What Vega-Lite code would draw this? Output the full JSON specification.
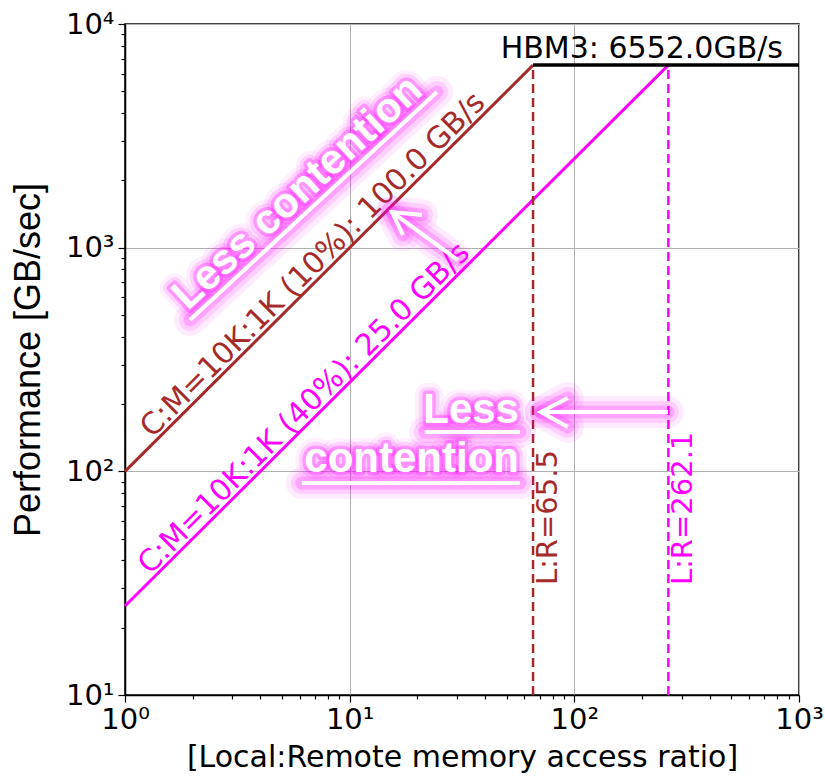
{
  "$schema": "https://vega.github.io/schema/vega-lite/v6.json",
  "width": 674,
  "height": 671,
  "autosize": {"type": "none"},
  "padding": {"left": 125, "top": 24, "right": 26, "bottom": 82},
  "background": "white",
  "config": {"view": {"stroke": "black", "strokeWidth": 1.5}},
  "datasets": {
    "brownLine": [{"x": 1, "y": 100}, {"x": 65.5, "y": 6552}],
    "magLine": [{"x": 1, "y": 25}, {"x": 262.1, "y": 6552}],
    "hbm": [{"x": 65.5, "y": 6552}, {"x": 1000, "y": 6552}],
    "vlines": [
      {"x": 65.5, "y": 10, "y2": 6552, "series": "10%"},
      {"x": 262.1, "y": 10, "y2": 6552, "series": "40%"}
    ],
    "curveLabels": [
      {"x": 1.36, "y": 136, "label": "C:M=10K:1K (10%): 100.0 GB/s", "series": "10%"},
      {"x": 1.33, "y": 33.25, "label": "C:M=10K:1K (40%): 25.0 GB/s", "series": "40%"}
    ],
    "lrLabels": [
      {"x": 65.5, "y": 31, "label": "L:R=65.5", "series": "10%"},
      {"x": 262.1, "y": 31, "label": "L:R=262.1", "series": "40%"}
    ],
    "hbmLabel": [{"x": 1000, "y": 6552, "label": "HBM3: 6552.0GB/s"}],
    "glowLines": [
      {"seg": "u1", "k": 1, "x": 1.947, "y": 474.8},
      {"seg": "u1", "k": 2, "x": 24.46, "y": 4962},
      {"seg": "u2", "k": 1, "x": 21.6, "y": 149.9},
      {"seg": "u2", "k": 2, "x": 57.3, "y": 149.9},
      {"seg": "u3", "k": 1, "x": 6.13, "y": 88.6},
      {"seg": "u3", "k": 2, "x": 57.3, "y": 88.6},
      {"seg": "a1", "k": 1, "x": 30.3, "y": 880},
      {"seg": "a1", "k": 2, "x": 15.43, "y": 1443},
      {"seg": "a1h", "k": 1, "x": 20.98, "y": 1399},
      {"seg": "a1h", "k": 2, "x": 15.43, "y": 1443},
      {"seg": "a1h", "k": 3, "x": 17.27, "y": 1138},
      {"seg": "a2", "k": 1, "x": 261, "y": 184.1},
      {"seg": "a2", "k": 2, "x": 71, "y": 184.1},
      {"seg": "a2h", "k": 1, "x": 93.6, "y": 212.7},
      {"seg": "a2h", "k": 2, "x": 71, "y": 184.1},
      {"seg": "a2h", "k": 3, "x": 93.6, "y": 157.8}
    ],
    "upperLess": [{"x": 6.4, "y": 1600, "label": "Less contention"}],
    "lowerLess": [
      {"x": 56.7, "y": 164.4, "label": "Less"},
      {"x": 56.7, "y": 99.3, "label": "contention"}
    ]
  },
  "encoding": {
    "x": {
      "field": "x", "type": "quantitative",
      "scale": {"type": "log", "domain": [1, 1000], "nice": false},
      "axis": {
        "orient": "bottom",
        "values": [1,2,3,4,5,6,7,8,9,10,20,30,40,50,60,70,80,90,100,200,300,400,500,600,700,800,900,1000],
        "labelExpr": "datum.value == 1 ? '10⁰' : datum.value == 10 ? '10¹' : datum.value == 100 ? '10²' : datum.value == 1000 ? '10³' : ''",
        "labelFont": "DejaVu Sans", "labelFontSize": 29, "labelColor": "black",
        "labelPadding": 3, "labelFlush": false, "labelOverlap": false, "labelBound": false,
        "tickColor": "black", "tickWidth": 1.2,
        "tickSize": {"condition": {"test": "indexof([1,10,100,1000], datum.value) >= 0", "value": 7}, "value": 4},
        "domainColor": "black", "domainWidth": 1.5,
        "grid": true, "gridColor": "#b0b0b0", "gridWidth": 1,
        "gridOpacity": {"condition": {"test": "indexof([1,10,100,1000], datum.value) >= 0", "value": 1}, "value": 0},
        "title": "[Local:Remote memory access ratio]",
        "titleFont": "DejaVu Sans", "titleFontSize": 30, "titleFontWeight": "normal", "titleColor": "black",
        "titlePadding": 8
      }
    },
    "y": {
      "field": "y", "type": "quantitative",
      "scale": {"type": "log", "domain": [10, 10000], "nice": false},
      "axis": {
        "orient": "left",
        "values": [10,20,30,40,50,60,70,80,90,100,200,300,400,500,600,700,800,900,1000,2000,3000,4000,5000,6000,7000,8000,9000,10000],
        "labelExpr": "datum.value == 10 ? '10¹' : datum.value == 100 ? '10²' : datum.value == 1000 ? '10³' : datum.value == 10000 ? '10⁴' : ''",
        "labelFont": "DejaVu Sans", "labelFontSize": 29, "labelColor": "black",
        "labelPadding": 4, "labelFlush": false, "labelOverlap": false, "labelBound": false,
        "tickColor": "black", "tickWidth": 1.2,
        "tickSize": {"condition": {"test": "indexof([10,100,1000,10000], datum.value) >= 0", "value": 7}, "value": 4},
        "domainColor": "black", "domainWidth": 1.5,
        "grid": true, "gridColor": "#b0b0b0", "gridWidth": 1,
        "gridOpacity": {"condition": {"test": "indexof([10,100,1000,10000], datum.value) >= 0", "value": 1}, "value": 0},
        "title": "Performance [GB/sec]",
        "titleFont": "Liberation Sans", "titleFontSize": 36, "titleFontWeight": "normal", "titleColor": "black",
        "titlePadding": 18
      }
    }
  },
  "layer": [
    {"data": {"name": "brownLine"}, "mark": {"type": "line", "color": "#a52a2a", "strokeWidth": 3}, "encoding": {}},
    {"data": {"name": "magLine"}, "mark": {"type": "line", "color": "#ff00ff", "strokeWidth": 3}, "encoding": {}},
    {"data": {"name": "hbm"}, "mark": {"type": "line", "color": "black", "strokeWidth": 3.5}, "encoding": {}},
    {
      "data": {"name": "vlines"},
      "mark": {"type": "rule", "strokeWidth": 2.5, "strokeDash": [9, 5]},
      "encoding": {
        "y2": {"field": "y2"},
        "color": {"field": "series", "type": "nominal", "scale": {"domain": ["10%", "40%"], "range": ["#a52a2a", "#ff00ff"]}, "legend": null}
      }
    },
    {
      "data": {"name": "curveLabels"},
      "mark": {"type": "text", "font": "DejaVu Sans", "fontSize": 30, "align": "left", "baseline": "alphabetic", "angle": -45, "dy": -4},
      "encoding": {
        "text": {"field": "label"},
        "color": {"field": "series", "type": "nominal", "scale": {"domain": ["10%", "40%"], "range": ["#a52a2a", "#ff00ff"]}, "legend": null}
      }
    },
    {
      "data": {"name": "lrLabels"},
      "mark": {"type": "text", "font": "DejaVu Sans", "fontSize": 29, "align": "left", "baseline": "top", "angle": -90, "dy": 1},
      "encoding": {
        "text": {"field": "label"},
        "color": {"field": "series", "type": "nominal", "scale": {"domain": ["10%", "40%"], "range": ["#a52a2a", "#ff00ff"]}, "legend": null}
      }
    },
    {
      "data": {"name": "hbmLabel"},
      "mark": {"type": "text", "font": "DejaVu Sans", "fontSize": 30, "align": "right", "baseline": "alphabetic", "dx": -16, "dy": -7, "color": "black"},
      "encoding": {"text": {"field": "label"}}
    },
    {"data": {"name": "glowLines"}, "mark": {"type": "line", "color": "#ff00ff", "strokeWidth": 32, "opacity": 0.08, "strokeCap": "round", "strokeJoin": "round"}, "encoding": {"detail": {"field": "seg"}, "order": {"field": "k"}}},
    {"data": {"name": "glowLines"}, "mark": {"type": "line", "color": "#ff00ff", "strokeWidth": 22, "opacity": 0.12, "strokeCap": "round", "strokeJoin": "round"}, "encoding": {"detail": {"field": "seg"}, "order": {"field": "k"}}},
    {"data": {"name": "glowLines"}, "mark": {"type": "line", "color": "#ff00ff", "strokeWidth": 13, "opacity": 0.2, "strokeCap": "round", "strokeJoin": "round"}, "encoding": {"detail": {"field": "seg"}, "order": {"field": "k"}}},
    {"data": {"name": "upperLess"}, "mark": {"type": "text", "font": "Liberation Sans", "fontWeight": "bold", "fontSize": 42, "align": "center", "baseline": "alphabetic", "angle": -42.7, "fillOpacity": 0, "stroke": "#ff00ff", "strokeWidth": 22, "strokeOpacity": 0.08, "strokeJoin": "round"}, "encoding": {"text": {"field": "label"}}},
    {"data": {"name": "upperLess"}, "mark": {"type": "text", "font": "Liberation Sans", "fontWeight": "bold", "fontSize": 42, "align": "center", "baseline": "alphabetic", "angle": -42.7, "fillOpacity": 0, "stroke": "#ff00ff", "strokeWidth": 14, "strokeOpacity": 0.15, "strokeJoin": "round"}, "encoding": {"text": {"field": "label"}}},
    {"data": {"name": "upperLess"}, "mark": {"type": "text", "font": "Liberation Sans", "fontWeight": "bold", "fontSize": 42, "align": "center", "baseline": "alphabetic", "angle": -42.7, "fillOpacity": 0, "stroke": "#ff00ff", "strokeWidth": 7, "strokeOpacity": 0.3, "strokeJoin": "round"}, "encoding": {"text": {"field": "label"}}},
    {"data": {"name": "lowerLess"}, "mark": {"type": "text", "font": "Liberation Sans", "fontWeight": "bold", "fontSize": 42, "align": "right", "baseline": "alphabetic", "fillOpacity": 0, "stroke": "#ff00ff", "strokeWidth": 22, "strokeOpacity": 0.08, "strokeJoin": "round"}, "encoding": {"text": {"field": "label"}}},
    {"data": {"name": "lowerLess"}, "mark": {"type": "text", "font": "Liberation Sans", "fontWeight": "bold", "fontSize": 42, "align": "right", "baseline": "alphabetic", "fillOpacity": 0, "stroke": "#ff00ff", "strokeWidth": 14, "strokeOpacity": 0.15, "strokeJoin": "round"}, "encoding": {"text": {"field": "label"}}},
    {"data": {"name": "lowerLess"}, "mark": {"type": "text", "font": "Liberation Sans", "fontWeight": "bold", "fontSize": 42, "align": "right", "baseline": "alphabetic", "fillOpacity": 0, "stroke": "#ff00ff", "strokeWidth": 7, "strokeOpacity": 0.3, "strokeJoin": "round"}, "encoding": {"text": {"field": "label"}}},
    {"data": {"name": "glowLines"}, "mark": {"type": "line", "color": "white", "strokeWidth": 4, "strokeCap": "butt", "strokeJoin": "miter"}, "encoding": {"detail": {"field": "seg"}, "order": {"field": "k"}}},
    {"data": {"name": "upperLess"}, "mark": {"type": "text", "font": "Liberation Sans", "fontWeight": "bold", "fontSize": 42, "align": "center", "baseline": "alphabetic", "angle": -42.7, "color": "white"}, "encoding": {"text": {"field": "label"}}},
    {"data": {"name": "lowerLess"}, "mark": {"type": "text", "font": "Liberation Sans", "fontWeight": "bold", "fontSize": 42, "align": "right", "baseline": "alphabetic", "color": "white"}, "encoding": {"text": {"field": "label"}}}
  ]
}
